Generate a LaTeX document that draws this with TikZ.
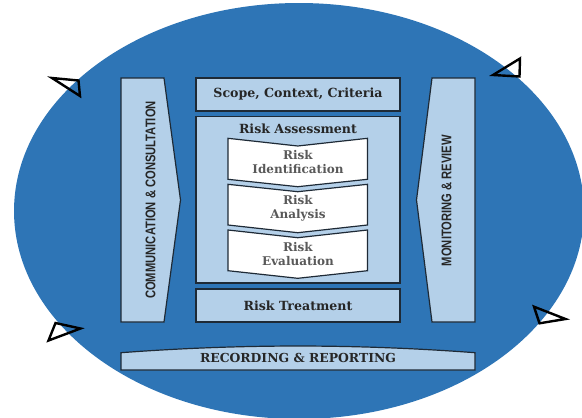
\documentclass[tikz,border=0pt]{standalone}
\usepackage{fontspec}
\setmainfont{DejaVu Serif}
\newfontfamily\barfont{Liberation Sans}
\usepackage{graphicx}

\definecolor{ringblue}{HTML}{2E75B6}
\definecolor{paleblue}{HTML}{B4D0E9}
\definecolor{edgegray}{HTML}{1E2A36}
\definecolor{textdark}{HTML}{262626}
\definecolor{stepgray}{HTML}{595959}

\tikzset{
  panel/.style={fill=paleblue, draw=edgegray, line width=1.2},
  stepshape/.style={fill=white, draw=edgegray, line width=1.2},
  title/.style={font=\bfseries\fontsize{12.6}{14}\selectfont, text=textdark},
  steptext/.style={font=\bfseries\fontsize{12}{14.3}\selectfont, text=stepgray, align=center},
  sidetext/.style={font=\barfont\bfseries\fontsize{14}{16}\selectfont, text=textdark, rotate=90},
  pointer/.style={draw=black, line width=2.4, line join=miter}
}

\begin{document}
\begin{tikzpicture}[x=1pt, y=-1pt]
    \useasboundingbox (0,0) rectangle (582,418);
    \begin{scope}
      \clip (0,0) rectangle (582,418);
      \fill[ringblue] (299,211) ellipse [x radius=285, y radius=208];
    \end{scope}

    % side bars
    \draw[panel] (121,78) -- (164,78) -- (180.5,200) -- (164,322) -- (121,322) -- cycle;
    \draw[panel] (432,78) -- (475,78) -- (475,322) -- (432,322) -- (416.5,200) -- cycle;
    \node[sidetext] (comm) at (150.5,200) {\scalebox{0.8}[1]{COMMUNICATION \& CONSULTATION}};
    \node[sidetext] (monitor) at (446.5,200.5) {\scalebox{0.8}[1]{MONITORING \& REVIEW}};

    % middle column
    \draw[panel] (196,78) rectangle (400,111);
    \node[title] (scope) at (298,94.5) {Scope, Context, Criteria};
    \draw[panel] (196,116.7) rectangle (400,283);
    \node[title] (assess) at (298,128.5) {Risk Assessment};
    \draw[panel] (196,289) rectangle (400,322);
    \node[title] (treat) at (298,305.5) {Risk Treatment};

    % steps
    \draw[stepshape] (228,138.3) -- (297.75,146) -- (367.5,138.3) -- (367.5,179.3) -- (297.75,186.7) -- (228,179.3) -- cycle;
    \node[steptext] (ident) at (298,162) {Risk\\Identification};
    \draw[stepshape] (228,184.3) -- (297.75,191.7) -- (367.5,184.3) -- (367.5,225) -- (297.75,232.7) -- (228,225) -- cycle;
    \node[steptext] (analysis) at (298,208) {Risk\\Analysis};
    \draw[stepshape] (228,230) -- (297.75,237.7) -- (367.5,230) -- (367.5,270.7) -- (297.75,278.3) -- (228,270.7) -- cycle;
    \node[steptext] (evaluation) at (298,253.8) {Risk\\Evaluation};

    % bottom bar
    \draw[panel] (121,352.7) .. controls (240,343.8) and (356,343.8) .. (475,352.7) -- (475,370) -- (121,370) -- cycle;
    \node[title, font=\bfseries\fontsize{12.4}{14}\selectfont] (record) at (298,358) {RECORDING \& REPORTING};

    % arrow heads on the ring
    \draw[pointer] (52,78) -- (78.5,80.5) -- (80,96) -- cycle;
    \draw[pointer] (493,75) -- (520,58.5) -- (519.5,76.5) -- cycle;
    \draw[pointer] (48.5,340.5) -- (55.5,323) -- (80.5,328.5) -- cycle;
    \draw[pointer] (534,306.7) -- (539.5,323.3) -- (565.5,319) -- cycle;
\end{tikzpicture}
\end{document}
